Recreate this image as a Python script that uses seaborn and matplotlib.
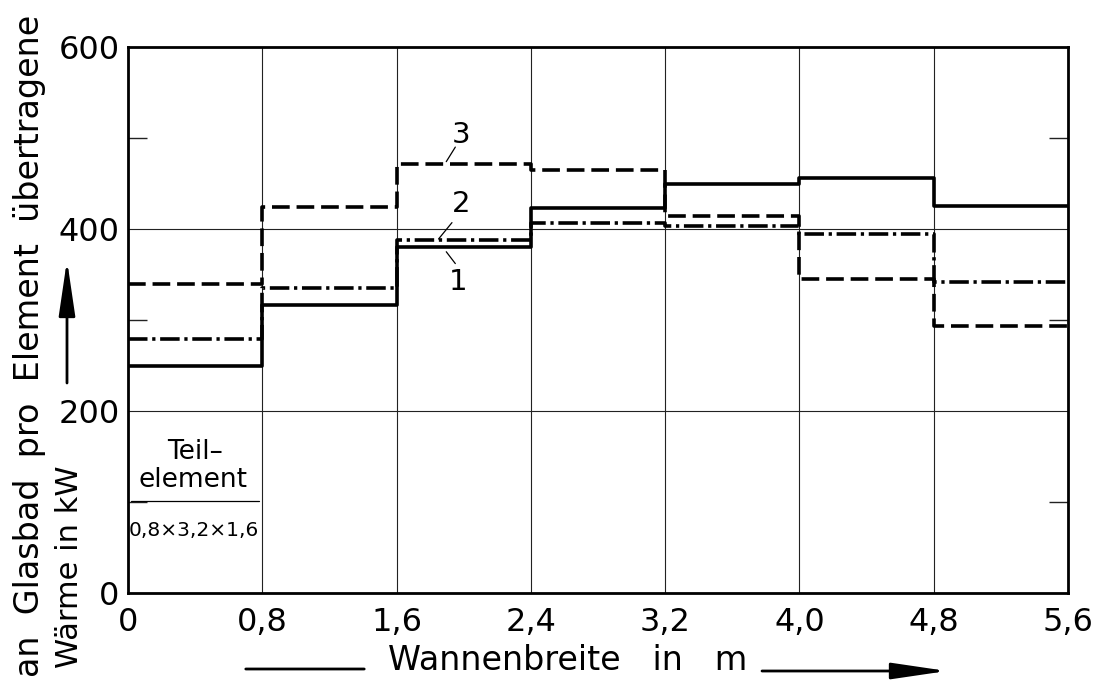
import numpy as np
import pandas as pd
import matplotlib
matplotlib.use("Agg")
import matplotlib.pyplot as plt
from matplotlib.patches import ArrowStyle
import seaborn as sns

# Daten (Stufen pro Teilelement, Breite 0,8 m)
grenzen = [0, 0.8, 1.6, 2.4, 3.2, 4.0, 4.8, 5.6]
kurve_1 = [250, 317, 380, 423, 450, 456, 425]   # durchgezogen
kurve_2 = [279, 335, 388, 407, 403, 394, 342]   # strichpunktiert
kurve_3 = [340, 424, 471, 465, 414, 345, 293]   # gestrichelt
x_ticks = [0, 0.8, 1.6, 2.4, 3.2, 4.0, 4.8, 5.6]
x_labels = ["0", "0,8", "1,6", "2,4", "3,2", "4,0", "4,8", "5,6"]
y_ticks = [0, 200, 400, 600]
y_minor = [100, 300, 500]

sns.set_style("ticks")
plt.rcParams['font.family'] = ['DejaVu Sans']
plt.rcParams['text.color'] = 'black'
plt.rcParams['xtick.color'] = 'black'
plt.rcParams['ytick.color'] = 'black'

fig = plt.figure(figsize=(10.95, 6.81), dpi=100)
ax = fig.add_axes([128 / 1095, 1 - 593 / 681, 940 / 1095, 546 / 681])

stile = {
    "1": "-",
    "2": (0, (5.4, 1.3, 0.9, 1.3)),
    "3": (0, (4.9, 1.9)),
}
for name, werte in [("1", kurve_1), ("2", kurve_2), ("3", kurve_3)]:
    df = pd.DataFrame({"x": grenzen, "y": werte + [werte[-1]]})
    sns.lineplot(data=df, x="x", y="y", ax=ax, color="black", lw=2.6,
                 linestyle=stile[name], drawstyle="steps-post", zorder=3)

ax.set_xlim(0, 5.6)
ax.set_ylim(0, 600)
ax.set_xticks(x_ticks)
ax.set_xticklabels(x_labels)
ax.set_yticks(y_ticks)
ax.set_yticks(y_minor, minor=True)
ax.tick_params(axis="both", which="major", length=0, labelsize=23,
               labelcolor="black")
ax.tick_params(axis="x", pad=10)
ax.tick_params(axis="y", pad=6)
ax.tick_params(axis="y", which="minor", direction="in", length=14, width=1.0,
               left=True, right=True, color="#222222")
ax.grid(True, which="major", color="#222222", lw=0.8)
for s in ax.spines.values():
    s.set_linewidth(2.0)
    s.set_color("black")
ax.set_xlabel("")
ax.set_ylabel("")

# Kurvennummern mit Hinweislinien
ax.text(1.985, 503, "3", fontsize=21, ha="center", va="center")
ax.plot([1.896, 1.95], [474, 490], color="black", lw=0.9)
ax.text(1.985, 428, "2", fontsize=21, ha="center", va="center")
ax.plot([1.85, 1.93], [389, 407], color="black", lw=0.9)
ax.text(1.967, 342, "1", fontsize=21, ha="center", va="center")
ax.plot([1.896, 1.95], [375, 362], color="black", lw=0.9)

# Teilelement-Kasten
ax.text(0.40, 155, "Teil–", fontsize=19, ha="center", va="center")
ax.text(0.385, 124, "element", fontsize=19, ha="center", va="center")
ax.plot([0.02, 0.78], [101, 101], color="black", lw=0.9)
ax.text(0.39, 69, "0,8×3,2×1,6", fontsize=14.5, ha="center", va="center")

# Achsenbeschriftungen
fig.text(568 / 1095, 1 - 660 / 681, "Wannenbreite   in   m", fontsize=24,
         ha="center", va="center")
fig.text(30 / 1095, 4 / 681, "an  Glasbad  pro  Element  übertragene",
         fontsize=24, rotation=90, ha="center", va="bottom")
fig.text(70 / 1095, 13 / 681, "Wärme in kW", fontsize=22, rotation=90,
         ha="center", va="bottom")

pfeil = ArrowStyle("-|>", head_length=1.7, head_width=0.25)
ax.annotate("", xy=(367, 12), xytext=(243, 12), xycoords="figure pixels",
            textcoords="figure pixels",
            arrowprops=dict(arrowstyle="-", lw=2, color="black"))
ax.annotate("", xy=(947, 10), xytext=(762, 10), xycoords="figure pixels",
            textcoords="figure pixels",
            arrowprops=dict(arrowstyle=pfeil, lw=2, color="black",
                            mutation_scale=20, shrinkA=0, shrinkB=0))
ax.annotate("", xy=(67, 421), xytext=(67, 298), xycoords="figure pixels",
            textcoords="figure pixels",
            arrowprops=dict(arrowstyle=pfeil, lw=2, color="black",
                            mutation_scale=20, shrinkA=0, shrinkB=0))

fig.savefig("out.png", dpi=100)
